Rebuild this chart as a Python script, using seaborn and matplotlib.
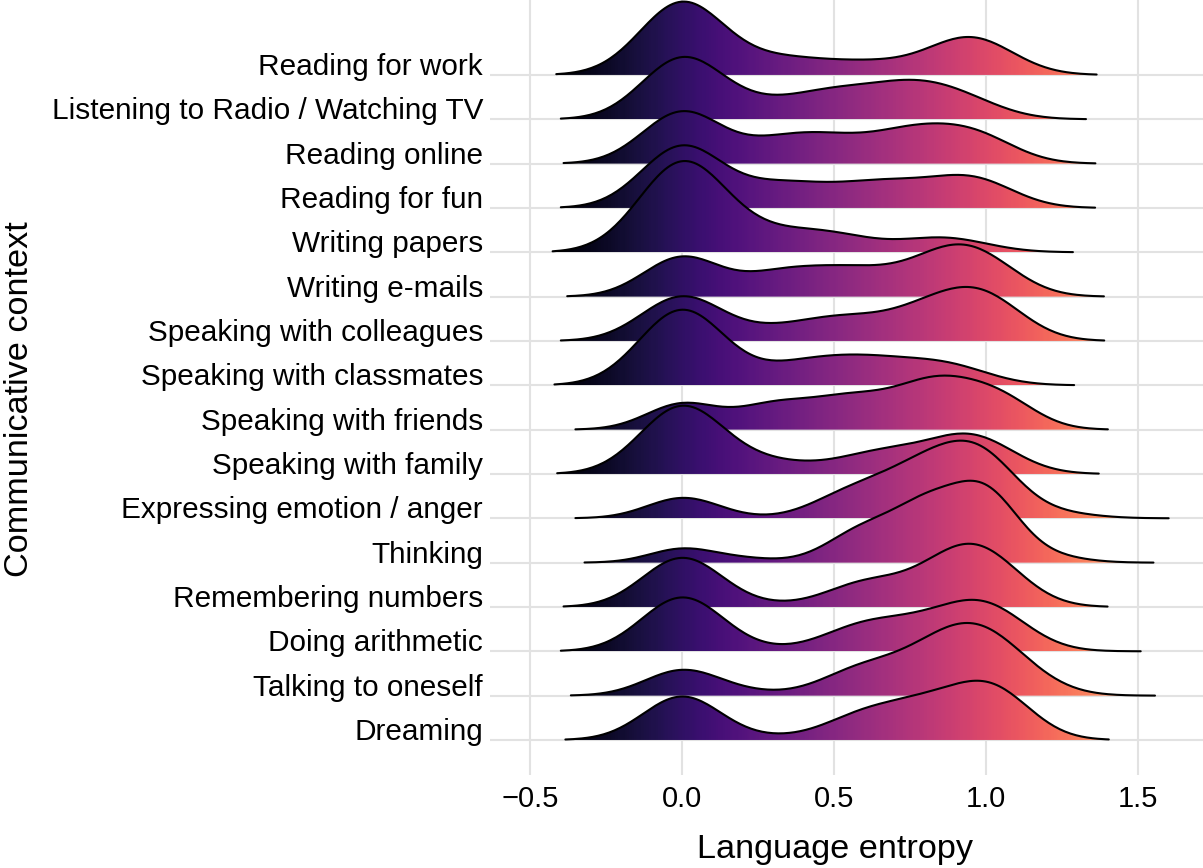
"""
Ridgeline plot of language entropy for each communicative context.
Every ridge is a weighted kernel density, filled with a magma
gradient that follows the entropy value on the x axis.
Saves the figure as 'out.png'.
"""

import numpy as np
import seaborn as sns
import matplotlib.pyplot as plt
from matplotlib.colors import Normalize, ListedColormap

# ridges from top to bottom
CONTEXTS = ["Reading for work", "Listening to Radio / Watching TV",
            "Reading online", "Reading for fun", "Writing papers",
            "Writing e-mails", "Speaking with colleagues",
            "Speaking with classmates", "Speaking with friends",
            "Speaking with family", "Expressing emotion / anger", "Thinking",
            "Remembering numbers", "Doing arithmetic", "Talking to oneself",
            "Dreaming"]

# kernel bandwidth of each ridge
BANDWIDTHS = [0.138, 0.133, 0.130, 0.133, 0.142, 0.126, 0.133, 0.140,
              0.117, 0.137, 0.117, 0.107, 0.130, 0.133, 0.122, 0.128]

# entropy values and share of respondents (per mille) for each context
WORK_X = [0.0, 0.1, 0.2, 0.3, 0.4, 0.5, 0.6, 0.7, 0.8, 0.95]
WORK_W = [525, 0, 6, 71, 44, 0, 60, 25, 0, 269]
RADIO_X = [0.0, 0.1, 0.2, 0.3, 0.4, 0.5, 0.6, 0.7, 0.8, 0.93]
RADIO_W = [421, 0, 37, 52, 16, 144, 0, 128, 98, 104]
ONLINE_X = [0.0, 0.1, 0.2, 0.3, 0.4, 0.5, 0.6, 0.7, 0.8, 0.9, 0.97]
ONLINE_W = [352, 0, 0, 104, 46, 108, 0, 100, 119, 0, 170]
FUN_X = [0.0, 0.1, 0.2, 0.3, 0.4, 0.5, 0.6, 0.7, 0.8, 0.9, 0.96]
FUN_W = [430, 0, 0, 118, 39, 37, 63, 87, 36, 0, 190]
PAPERS_X = [0.0, 0.1, 0.2, 0.3, 0.4, 0.5, 0.6, 0.7, 0.8, 0.86]
PAPERS_W = [659, 0, 44, 63, 22, 104, 0, 0, 0, 107]
EMAILS_X = [0.0, 0.1, 0.2, 0.3, 0.4, 0.5, 0.6, 0.7, 0.8, 0.9, 1.01]
EMAILS_W = [261, 0, 0, 110, 44, 69, 91, 16, 92, 168, 149]
COLLEAGUES_X = [0.0, 0.1, 0.2, 0.3, 0.4, 0.5, 0.6, 0.7, 0.8, 0.9, 0.99]
COLLEAGUES_W = [309, 0, 0, 64, 0, 105, 51, 0, 174, 4, 293]
CLASSMATES_X = [0.0, 0.1, 0.2, 0.3, 0.4, 0.5, 0.6, 0.7, 0.8, 0.87]
CLASSMATES_W = [555, 0, 0, 18, 124, 0, 134, 32, 0, 137]
FRIENDS_X = [0.0, 0.1, 0.2, 0.3, 0.4, 0.5, 0.6, 0.7, 0.8, 0.9, 1.05]
FRIENDS_W = [157, 0, 15, 125, 13, 99, 93, 34, 164, 130, 170]
FAMILY_X = [0.0, 0.1, 0.2, 0.3, 0.4, 0.5, 0.6, 0.7, 0.8, 0.9, 0.96]
FAMILY_W = [485, 0, 7, 72, 0, 0, 72, 89, 4, 42, 229]
EMOTION_X = [0.0, 0.1, 0.2, 0.3, 0.4, 0.5, 0.6, 0.7, 0.8, 0.9, 1.0, 1.1,
             1.25]
EMOTION_W = [120, 9, 0, 0, 0, 71, 90, 78, 180, 135, 279, 12, 26]
THINKING_X = [0.0, 0.1, 0.2, 0.3, 0.4, 0.5, 0.6, 0.7, 0.8, 0.9, 1.0, 1.1,
              1.23]
THINKING_W = [77, 0, 22, 0, 0, 32, 141, 32, 252, 53, 346, 21, 25]
NUMBERS_X = [0.0, 0.1, 0.2, 0.3, 0.4, 0.5, 0.6, 0.7, 0.8, 0.9, 1.01]
NUMBERS_W = [335, 0, 7, 8, 0, 0, 154, 0, 58, 195, 244]
ARITHMETIC_X = [0.0, 0.1, 0.2, 0.3, 0.4, 0.5, 0.6, 0.7, 0.8, 0.9, 1.0, 1.11]
ARITHMETIC_W = [375, 0, 11, 0, 0, 16, 152, 0, 138, 14, 287, 7]
ONESELF_X = [0.0, 0.1, 0.2, 0.3, 0.4, 0.5, 0.6, 0.7, 0.8, 0.9, 1.0, 1.1,
             1.19]
ONESELF_W = [161, 0, 21, 0, 0, 35, 124, 31, 137, 171, 213, 88, 19]
DREAMING_X = [0.0, 0.1, 0.2, 0.3, 0.4, 0.5, 0.6, 0.7, 0.8, 0.9, 1.02]
DREAMING_W = [293, 0, 0, 15, 0, 8, 150, 0, 185, 23, 326]

X_TICKS = [-0.5, 0.0, 0.5, 1.0, 1.5]
X_TICK_LABELS = ['\u22120.5', '0.0', '0.5', '1.0', '1.5']


def ridge(ax, values, shares, bw, base, z, cmap, norm):
    """
    Draws one ridge: a seaborn kde of the entropy values weighted by
    the shares, lifted to its baseline and filled with the gradient.
    """
    values = np.array(values)
    shares = np.array(shares, dtype=float)
    std_w = np.sqrt(np.cov(values, aweights=shares))
    std_u = np.sqrt(np.cov(values))
    # seaborn sizes the support from the unweighted spread, so widen the
    # cut to reach three bandwidths beyond the data on both sides
    sns.kdeplot(x=values, weights=shares, bw_method=bw / std_w,
                cut=3 * std_w / std_u, ax=ax, color='black',
                linewidth=1.5, zorder=z + 1)
    line = ax.lines[-1]
    xs, ys = line.get_data()
    ys = ys * 1.07 + base
    line.set_ydata(ys)

    poly = ax.fill_between(xs, base, ys, facecolor='none', linewidth=0)
    grad = np.linspace(-0.63, 1.72, 800)[None, :]
    im = ax.imshow(grad, extent=(-0.63, 1.72, base, ys.max() + 0.1),
                   origin='lower', aspect='auto', cmap=cmap, norm=norm,
                   zorder=z)
    im.set_clip_path(poly.get_paths()[0], transform=ax.transData)


def main():
    entropy = [WORK_X, RADIO_X, ONLINE_X, FUN_X, PAPERS_X, EMAILS_X,
               COLLEAGUES_X, CLASSMATES_X, FRIENDS_X, FAMILY_X, EMOTION_X,
               THINKING_X, NUMBERS_X, ARITHMETIC_X, ONESELF_X, DREAMING_X]
    shares = [WORK_W, RADIO_W, ONLINE_W, FUN_W, PAPERS_W, EMAILS_W,
              COLLEAGUES_W, CLASSMATES_W, FRIENDS_W, FAMILY_W, EMOTION_W,
              THINKING_W, NUMBERS_W, ARITHMETIC_W, ONESELF_W, DREAMING_W]

    sns.set_theme(style="white")
    plt.rcParams['font.family'] = ['Liberation Sans', 'DejaVu Sans']

    fig = plt.figure(figsize=(12.03, 8.68), dpi=100)
    ax = fig.add_axes([490 / 1203, 1 - 775 / 868, 713 / 1203, 775 / 868])

    cmap = ListedColormap(plt.get_cmap('magma')(np.linspace(0, 0.85, 256)))
    norm = Normalize(-0.42, 1.6, clip=True)

    n = len(CONTEXTS)
    for i in range(n):
        # lower ridges are drawn over the ones above them
        ridge(ax, entropy[i], shares[i], BANDWIDTHS[i], n - 1 - i, 3 * i + 1,
              cmap, norm)

    ax.set_xlim(-0.632, 1.714)
    ax.set_ylim(-0.79, 16.69)
    ax.set_yticks(range(n - 1, -1, -1))
    ax.set_yticklabels(CONTEXTS)
    ax.set_xticks(X_TICKS)
    ax.set_xticklabels(X_TICK_LABELS)
    ax.grid(True, color='#e2e2e2', linewidth=1.5)
    ax.set_axisbelow(True)
    for s in ax.spines.values():
        s.set_visible(False)
    ax.tick_params(axis='y', length=0, pad=5, labelsize=21.4,
                   labelcolor='black')
    ax.tick_params(axis='x', length=0, pad=7, labelsize=21,
                   labelcolor='black')
    for lab in ax.get_yticklabels():
        lab.set_va('baseline')

    ax.set_xlabel('Language entropy', fontsize=24.7, color='black')
    ax.xaxis.set_label_coords((835 - 490) / 713, (775 - 858) / 775)
    ax.xaxis.label.set_va('baseline')
    ax.set_ylabel('Communicative context', fontsize=24.7, color='black')
    ax.yaxis.set_label_coords((20 - 490) / 713, (775 - 399) / 775)
    ax.yaxis.label.set_va('center')

    fig.savefig('out.png', dpi=100)


if __name__ == '__main__':
    main()
